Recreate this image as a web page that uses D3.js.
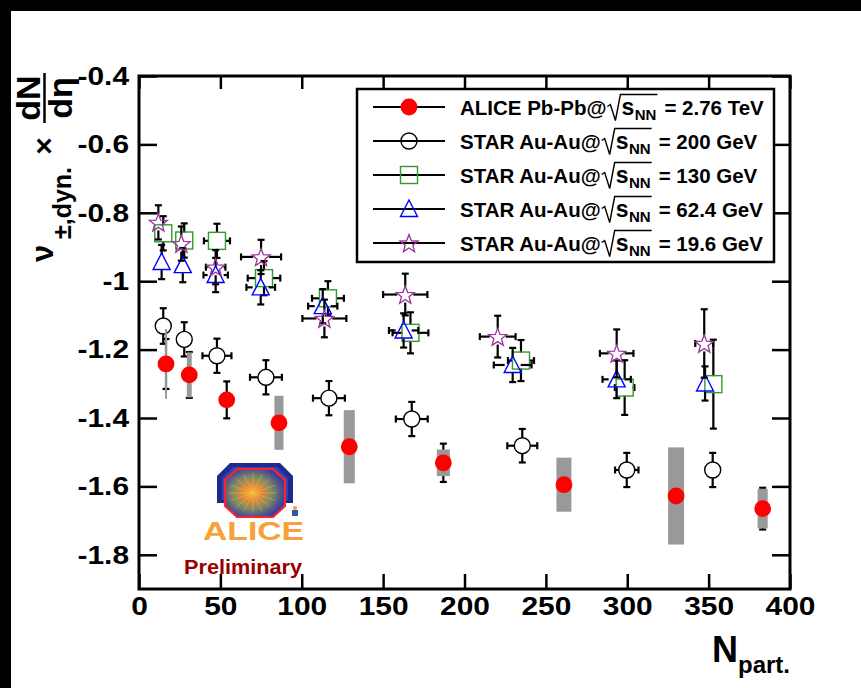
<!DOCTYPE html>
<html>
<head>
<meta charset="utf-8">
<script src="https://cdn.jsdelivr.net/npm/d3@7/dist/d3.min.js"></script>
<style>
  html, body { margin: 0; padding: 0; background: #fff; }
  svg { display: block; }
  text { font-family: "Liberation Sans", Arial, Helvetica, sans-serif; font-weight: bold; }
</style>
</head>
<body>
<svg id="chart" width="861" height="688"></svg>
<script>
// ---------------- data ----------------
const xTicks = [0, 50, 100, 150, 200, 250, 300, 350, 400];
const yTicks = [-1.8, -1.6, -1.4, -1.2, -1, -0.8, -0.6, -0.4];
const yTickLabels = ["-1.8", "-1.6", "-1.4", "-1.2", "-1", "-0.8", "-0.6", "-0.4"];

const aliceN    = [16.6, 30.9, 53.9, 86.0, 129.2, 187.0, 261.1, 330.0, 383.2];
const aliceV    = [-1.242, -1.274, -1.347, -1.414, -1.484, -1.531, -1.595, -1.628, -1.665];
const aliceStat = [0.073, 0.067, 0.054, 0.060, 0.060, 0.056, 0.060, 0.060, 0.061];
const aliceSys  = [0.102, 0.066, 0.020, 0.079, 0.107, 0.039, 0.079, 0.142, 0.058];
const aliceSysW = [0.6, 1.5, 2.5, 2.8, 3.4, 4.0, 4.6, 4.9, 3.1];

const s200N  = [14.9, 27.8, 47.9, 78.0, 116.7, 167.6, 235.5, 299.7, 352.5];
const s200V  = [-1.131, -1.170, -1.218, -1.281, -1.342, -1.403, -1.481, -1.552, -1.552];
const s200Ey = [0.052, 0.050, 0.050, 0.050, 0.050, 0.050, 0.049, 0.050, 0.050];
const s200Ex = [2, 2, 8.9, 9.8, 9.8, 9.8, 9.2, 7.2, 2];

const s130N  = [14.9, 27.8, 47.9, 76.8, 116.1, 166.8, 234.7, 298.4, 352.9];
const s130V  = [-0.860, -0.881, -0.882, -0.991, -1.050, -1.151, -1.232, -1.311, -1.301];
const s130Ey = [0.05, 0.05, 0.05, 0.05, 0.05, 0.06, 0.06, 0.08, 0.13];
const s130Ex = [2, 4, 8, 10, 9.8, 11, 8, 6, 2];

const s62N  = [13.9, 26.9, 47.1, 74.8, 112.9, 162.6, 229.6, 293.5, 347.8];
const s62V  = [-0.944, -0.953, -0.982, -1.018, -1.073, -1.144, -1.245, -1.287, -1.299];
const s62Ey = [0.05, 0.05, 0.05, 0.05, 0.05, 0.05, 0.05, 0.055, 0.05];
const s62Ex = [2, 3, 7.5, 8.8, 9, 9, 11.6, 8.7, 2];

const s19N  = [11.9, 26.0, 47.1, 75.0, 113.9, 163.6, 220.4, 293.5, 347.3];
const s19V  = [-0.828, -0.890, -0.959, -0.929, -1.109, -1.039, -1.162, -1.211, -1.182];
const s19Ey = [0.05, 0.05, 0.05, 0.05, 0.055, 0.061, 0.061, 0.07, 0.10];
const s19Ex = [2, 3, 6, 12.3, 13.5, 13.6, 11, 10.3, 5.5];

const legendPrefix = ["ALICE Pb-Pb@", "STAR Au-Au@", "STAR Au-Au@", "STAR Au-Au@", "STAR Au-Au@"];
const legendSuffix = ["= 2.76 TeV", "= 200 GeV", "= 130 GeV", "= 62.4 GeV", "= 19.6 GeV"];

// ---------------- layout ----------------
const svg = d3.select("#chart");
const L = 139, R = 790, T = 76, B = 589;
const x = d3.scaleLinear().domain([0, 400]).range([L, R]);
const y = d3.scaleLinear().domain([-1.9, -0.4]).range([B, T]);

// black borders (canvas edge)
svg.append("rect").attr("x", 0).attr("y", 0).attr("width", 861).attr("height", 11).attr("fill", "#000");
svg.append("rect").attr("x", 0).attr("y", 0).attr("width", 11).attr("height", 688).attr("fill", "#000");

const COL = { alice: "#ff0000", s200: "#000000", s130: "#339933", s62: "#0000ff", s19: "#993399", sys: "#999999" };

// ---------------- markers ----------------
function markerShape(g, type, cx, cy) {
  if (type === "fcircle") {
    g.append("circle").attr("cx", cx).attr("cy", cy).attr("r", 8.4).attr("fill", COL.alice);
  } else if (type === "ocircle") {
    g.append("circle").attr("cx", cx).attr("cy", cy).attr("r", 8).attr("fill", "none").attr("stroke", COL.s200).attr("stroke-width", 1.4);
  } else if (type === "square") {
    g.append("rect").attr("x", cx - 8.5).attr("y", cy - 8.5).attr("width", 17).attr("height", 17)
      .attr("fill", "none").attr("stroke", COL.s130).attr("stroke-width", 1.4);
  } else if (type === "triangle") {
    g.append("path").attr("d", `M${cx},${cy - 9}L${cx + 8.5},${cy + 7.5}L${cx - 8.5},${cy + 7.5}Z`)
      .attr("fill", "none").attr("stroke", COL.s62).attr("stroke-width", 1.4);
  } else if (type === "star") {
    const pts = [];
    for (let i = 0; i < 10; i++) {
      const a = -Math.PI / 2 + i * Math.PI / 5;
      const r = i % 2 === 0 ? 9.5 : 4;
      pts.push([cx + r * Math.cos(a), cy + 1 + r * Math.sin(a)]);
    }
    g.append("path").attr("d", "M" + pts.map(p => p.join(",")).join("L") + "Z")
      .attr("fill", "none").attr("stroke", COL.s19).attr("stroke-width", 1.3);
  }
}

function errBars(g, N, V, Ex, Ey, gap) {
  const cap = 3.5;
  N.forEach((n, i) => {
    const cx = x(n), cy = y(V[i]);
    const yTop = y(V[i] + Ey[i]), yBot = y(V[i] - Ey[i]);
    const xL = x(n - Ex[i]), xR = x(n + Ex[i]);
    const segs = [];
    if (cy - yTop > gap) { segs.push([cx, yTop, cx, cy - gap]); segs.push([cx - cap, yTop, cx + cap, yTop]); }
    if (yBot - cy > gap) { segs.push([cx, cy + gap, cx, yBot]); segs.push([cx - cap, yBot, cx + cap, yBot]); }
    if (cx - xL > gap) { segs.push([xL, cy, cx - gap, cy]); segs.push([xL, cy - cap, xL, cy + cap]); }
    if (xR - cx > gap) { segs.push([cx + gap, cy, xR, cy]); segs.push([xR, cy - cap, xR, cy + cap]); }
    segs.forEach(s => g.append("line").attr("x1", s[0]).attr("y1", s[1]).attr("x2", s[2]).attr("y2", s[3])
      .attr("stroke", "#000").attr("stroke-width", 2.2));
  });
}

const plot = svg.append("g");

// STAR series
const starSeries = [
  { N: s200N, V: s200V, Ex: s200Ex, Ey: s200Ey, type: "ocircle" },
  { N: s130N, V: s130V, Ex: s130Ex, Ey: s130Ey, type: "square" },
  { N: s62N, V: s62V, Ex: s62Ex, Ey: s62Ey, type: "triangle" },
  { N: s19N, V: s19V, Ex: s19Ex, Ey: s19Ey, type: "star" }
];
starSeries.forEach(s => {
  const g = plot.append("g");
  errBars(g, s.N, s.V, s.Ex, s.Ey, 8);
  s.N.forEach((n, i) => markerShape(g, s.type, x(n), y(s.V[i])));
});

// ALICE: stat bars, sys boxes, markers
const ga = plot.append("g");
aliceN.forEach((n, i) => {
  const cx = x(n);
  const y1 = y(aliceV[i] + aliceStat[i]), y2 = y(aliceV[i] - aliceStat[i]);
  ga.append("line").attr("x1", cx).attr("x2", cx).attr("y1", y1).attr("y2", y2).attr("stroke", "#000").attr("stroke-width", 2.2);
  ga.append("line").attr("x1", cx - 3.5).attr("x2", cx + 3.5).attr("y1", y1).attr("y2", y1).attr("stroke", "#000").attr("stroke-width", 2.2);
  ga.append("line").attr("x1", cx - 3.5).attr("x2", cx + 3.5).attr("y1", y2).attr("y2", y2).attr("stroke", "#000").attr("stroke-width", 2.2);
});
aliceN.forEach((n, i) => {
  const x0 = x(n - aliceSysW[i]), x1 = x(n + aliceSysW[i]);
  const yT = y(aliceV[i] + aliceSys[i]), yB = y(aliceV[i] - aliceSys[i]);
  ga.append("rect").attr("x", x0).attr("y", yT).attr("width", Math.max(x1 - x0, 1.5)).attr("height", yB - yT).attr("fill", COL.sys);
});
aliceN.forEach((n, i) => markerShape(ga, "fcircle", x(n), y(aliceV[i])));

// ---------------- axes / frame ----------------
const SX = 1.15;
const axB = svg.append("g").attr("transform", `translate(0,${B})`)
  .call(d3.axisBottom(x).tickValues(xTicks).tickSize(-15).tickPadding(8).tickFormat(d3.format("d")));
const axT = svg.append("g").attr("transform", `translate(0,${T})`)
  .call(d3.axisTop(x).tickValues(xTicks).tickSize(-13).tickFormat(""));
const axL = svg.append("g").attr("transform", `translate(${L},0)`)
  .call(d3.axisLeft(y).tickValues(yTicks).tickSize(-18).tickPadding(10).tickFormat((d, i) => yTickLabels[i]));
const axR = svg.append("g").attr("transform", `translate(${R},0)`)
  .call(d3.axisRight(y).tickValues(yTicks).tickSize(-18).tickFormat(""));

[axB, axT, axL, axR].forEach(a => {
  a.select(".domain").remove();
  a.selectAll(".tick line").attr("stroke", "#000").attr("stroke-width", 2.5);
});
axB.selectAll(".tick text").attr("font-size", 26).attr("font-family", "Liberation Sans, Arial, sans-serif")
  .attr("font-weight", "bold").attr("fill", "#000").attr("transform", `scale(${SX},1)`);
axL.selectAll(".tick text").attr("font-size", 26).attr("font-family", "Liberation Sans, Arial, sans-serif")
  .attr("font-weight", "bold").attr("fill", "#000").attr("x", -10 / SX).attr("transform", `scale(${SX},1)`);

svg.append("rect").attr("x", L).attr("y", T).attr("width", R - L).attr("height", B - T)
  .attr("fill", "none").attr("stroke", "#000").attr("stroke-width", 3);

// x-axis title
const xt = svg.append("text").attr("x", 712).attr("y", 662).attr("font-size", 36).attr("fill", "#000");
xt.append("tspan").text("N");
xt.append("tspan").attr("font-size", 24).attr("dy", 11).text("part.");

// y-axis title (rotated)
function rotText(xb, ys, txt, size, anchor, weight) {
  return svg.append("text").attr("transform", `translate(${xb},${ys}) rotate(-90)`)
    .attr("font-size", size).attr("text-anchor", anchor || "start").attr("font-weight", weight || "bold")
    .attr("fill", "#000").text(txt);
}
rotText(53, 262, "ν", 31, "start", "normal");
rotText(71, 239, "±,dyn.", 25, "start", "bold");
rotText(54, 146, "×", 30, "middle", "normal");
rotText(40, 98, "dN", 34, "middle", "bold");
svg.append("line").attr("x1", 44.5).attr("x2", 44.5).attr("y1", 73).attr("y2", 123).attr("stroke", "#000").attr("stroke-width", 2.5);
rotText(72, 98, "dη", 34, "middle", "normal");

// ---------------- legend ----------------
const lg = svg.append("g");
lg.append("rect").attr("x", 357).attr("y", 89).attr("width", 417).attr("height", 173)
  .attr("fill", "#fff").attr("stroke", "#000").attr("stroke-width", 2.5);
const rowY = [107, 141, 175, 209, 243];
const rowType = ["fcircle", "ocircle", "square", "triangle", "star"];
rowY.forEach((ry, i) => {
  lg.append("line").attr("x1", 373).attr("x2", 445).attr("y1", ry).attr("y2", ry).attr("stroke", "#000").attr("stroke-width", 2.2);
  markerShape(lg, rowType[i], 409, ry);
  const base = ry + 7.5;
  const t1 = lg.append("text").attr("x", 460).attr("y", base).attr("font-size", 20.5).attr("fill", "#000").text(legendPrefix[i]);
  let cx = 460 + t1.node().getComputedTextLength();
  // radical sign
  const rs = cx + 1;
  const ts = lg.append("text").attr("x", rs + 14).attr("y", base).attr("font-size", 23).attr("fill", "#000").text("s");
  const sw = ts.node().getComputedTextLength();
  const tn = lg.append("text").attr("x", rs + 14 + sw + 0.5).attr("y", base + 5).attr("font-size", 15).attr("fill", "#000").text("NN");
  const nw = tn.node().getComputedTextLength();
  const rEnd = rs + 14 + sw + 0.5 + nw + 1;
  lg.append("path").attr("d", `M${rs},${base - 8}L${rs + 3},${base - 10}L${rs + 8},${base + 6}L${rs + 13},${base - 20}L${rEnd},${base - 20}`)
    .attr("fill", "none").attr("stroke", "#000").attr("stroke-width", 1.4);
  lg.append("text").attr("x", rEnd + 7).attr("y", base).attr("font-size", 20.5).attr("fill", "#000").text(legendSuffix[i]);
});

// ---------------- ALICE logo ----------------
const logo = svg.append("g");
const defs = svg.append("defs");
const rg = defs.append("radialGradient").attr("id", "core").attr("cx", "45%").attr("cy", "50%").attr("r", "55%");
rg.append("stop").attr("offset", "0%").attr("stop-color", "#ffb020");
rg.append("stop").attr("offset", "30%").attr("stop-color", "#e08a3a");
rg.append("stop").attr("offset", "60%").attr("stop-color", "#7f8a62");
rg.append("stop").attr("offset", "100%").attr("stop-color", "#3a3f9a");
logo.append("path").attr("d", "M217,503L217,476L230,463L280,463L293,476L293,503Z").attr("fill", "#1e2a8e");
logo.append("path").attr("d", "M222,500L222,478L233,467L277,467L288,478L288,500Z").attr("fill", "#2f45b0");
logo.append("path").attr("d", "M237,469L273,469L285,480L285,506L273,517L237,517L225,506L225,480Z")
  .attr("fill", "url(#core)").attr("stroke", "#ff2030").attr("stroke-width", 2.2);
for (let k = 0; k < 16; k++) {
  const a = k * Math.PI / 8;
  logo.append("line").attr("x1", 253).attr("y1", 493).attr("x2", 253 + 24 * Math.cos(a)).attr("y2", 493 + 20 * Math.sin(a))
    .attr("stroke", "#ffd060").attr("stroke-width", 0.6).attr("opacity", 0.6);
}
logo.append("circle").attr("cx", 295).attr("cy", 508).attr("r", 2).attr("fill", "#f0a040");
logo.append("rect").attr("x", 292).attr("y", 510).attr("width", 6).attr("height", 6).attr("fill", "#2a5aa8");
logo.append("text").attr("x", 203).attr("y", 540).attr("font-size", 25).attr("fill", "#f7a13a")
  .attr("textLength", 101).attr("lengthAdjust", "spacingAndGlyphs").text("ALICE");
svg.append("text").attr("x", 184).attr("y", 574).attr("font-size", 20).attr("fill", "#990000")
  .attr("textLength", 118).attr("lengthAdjust", "spacingAndGlyphs").text("Preliminary");
</script>
</body>
</html>
